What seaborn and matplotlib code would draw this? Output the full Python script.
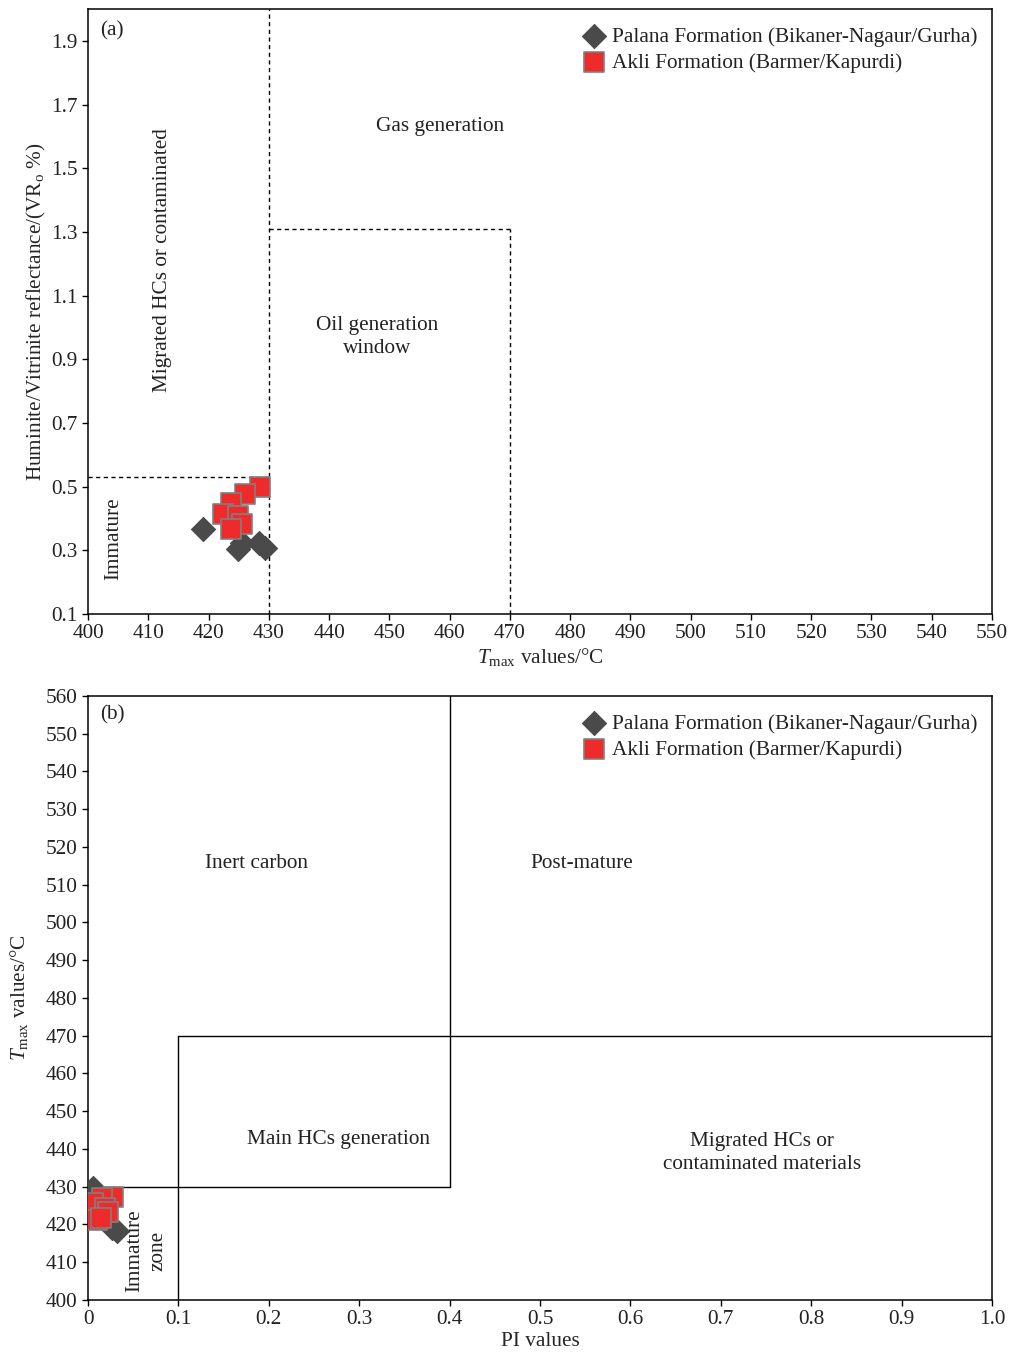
import matplotlib
matplotlib.use("Agg")
import matplotlib.pyplot as plt
import seaborn as sns
import pandas as pd
import numpy as np

# ---------------- data ----------------
# Panel (a): Tmax vs VRo
palana_a_tmax = [419.0, 425.5, 424.9, 428.3, 429.4]
palana_a_vr = [0.368, 0.324, 0.304, 0.324, 0.307]
akli_a_tmax = [428.5, 426.0, 423.8, 422.4, 424.9, 425.5, 423.8]
akli_a_vr = [0.500, 0.477, 0.450, 0.414, 0.408, 0.382, 0.366]

# Panel (b): PI vs Tmax
palana_b_pi = [0.006, 0.026, 0.032]
palana_b_tmax = [429.6, 419.2, 418.3]
akli_b_pi = [0.028, 0.015, 0.006, 0.019, 0.022, 0.010, 0.014]
akli_b_tmax = [427.3, 427.0, 425.7, 424.3, 423.2, 421.1, 421.6]

palana_label = "Palana Formation (Bikaner-Nagaur/Gurha)"
akli_label = "Akli Formation (Barmer/Kapurdi)"

a_xticks = list(range(400, 551, 10))
a_yticks = [0.1, 0.3, 0.5, 0.7, 0.9, 1.1, 1.3, 1.5, 1.7, 1.9]
b_xticks = [0, 0.1, 0.2, 0.3, 0.4, 0.5, 0.6, 0.7, 0.8, 0.9, 1.0]
b_xticklabels = ["0", "0.1", "0.2", "0.3", "0.4", "0.5", "0.6", "0.7", "0.8", "0.9", "1.0"]
b_yticks = list(range(400, 561, 10))

# ---------------- style ----------------
sns.set_style("ticks")
plt.rcParams['font.family'] = ['Liberation Serif', 'DejaVu Serif']
plt.rcParams['mathtext.fontset'] = 'custom'
plt.rcParams['mathtext.rm'] = 'Liberation Serif'
plt.rcParams['mathtext.it'] = 'Liberation Serif:italic'
plt.rcParams['text.color'] = '#222222'

FS = 15.3
gray = '#4a4a4a'
red = '#ee2a2a'
red_edge = '#808080'

fig = plt.figure(figsize=(10.09, 13.54), dpi=100)
L, W = 88 / 1009, 904 / 1009
axA = fig.add_axes([L, 1 - 614 / 1354, W, 605 / 1354])
axB = fig.add_axes([L, 1 - 1300 / 1354, W, 604 / 1354])

dfA_p = pd.DataFrame({"x": palana_a_tmax, "y": palana_a_vr})
dfA_a = pd.DataFrame({"x": akli_a_tmax, "y": akli_a_vr})
dfB_p = pd.DataFrame({"x": palana_b_pi, "y": palana_b_tmax})
dfB_a = pd.DataFrame({"x": akli_b_pi, "y": akli_b_tmax})

for ax, dp, da in [(axA, dfA_p, dfA_a), (axB, dfB_p, dfB_a)]:
    sns.scatterplot(data=dp, x="x", y="y", ax=ax, marker="D", s=150,
                    color=gray, edgecolor=gray, linewidth=0.8,
                    label=palana_label, zorder=3)
    sns.scatterplot(data=da, x="x", y="y", ax=ax, marker="s", s=220,
                    color=red, edgecolor=red_edge, linewidth=1.2,
                    label=akli_label, zorder=4)
    for sp in ax.spines.values():
        sp.set_visible(True)
        sp.set_linewidth(1.1)
        sp.set_color('black')
    ax.tick_params(axis='both', direction='out', length=4, width=1.0,
                   labelsize=FS, colors='black', labelcolor='#222222')
    leg = ax.legend(loc='upper right', frameon=False, fontsize=FS,
                    handletextpad=0.35, handlelength=1.0, borderaxespad=0.3,
                    labelspacing=0.3, bbox_to_anchor=(1.0, 0.995))

# ---------------- panel (a) ----------------
axA.set_xlim(400, 550)
axA.set_ylim(0.1, 2.0)
axA.set_xticks(a_xticks)
axA.set_yticks(a_yticks)
axA.set_yticklabels([f"{v:.1f}" for v in a_yticks])
axA.set_xlabel(r"$\mathit{T}_{\rm max}$ values/°C", fontsize=FS, labelpad=2)
axA.set_ylabel(r"Huminite/Vitrinite reflectance/(VR$_{\rm o}$ %)", fontsize=FS, labelpad=2)

dash = dict(color='black', lw=1.0, linestyle=(0, (3, 2.5)), zorder=2)
axA.plot([430, 430], [0.1, 2.0], **dash)
axA.plot([400, 430], [0.53, 0.53], **dash)
axA.plot([430, 470], [1.31, 1.31], **dash)
axA.plot([470, 470], [0.1, 1.31], **dash)

axA.text(402.0, 1.93, "(a)", fontsize=FS, ha='left', va='center')
axA.text(458.4, 1.63, "Gas generation", fontsize=FS, ha='center', va='center')
axA.text(448.0, 0.97, "Oil generation\nwindow", fontsize=FS, ha='center', va='center',
         multialignment='center', linespacing=1.3)
axA.text(412.3, 1.21, "Migrated HCs or contaminated", fontsize=FS, ha='center',
         va='center', rotation=90)
axA.text(404.2, 0.336, "Immature", fontsize=FS, ha='center', va='center', rotation=90)

# ---------------- panel (b) ----------------
axB.set_xlim(0, 1.0)
axB.set_ylim(400, 560)
axB.set_xticks(b_xticks)
axB.set_xticklabels(b_xticklabels)
axB.set_yticks(b_yticks)
axB.set_xlabel("PI values", fontsize=FS, labelpad=2)
axB.set_ylabel(r"$\mathit{T}_{\rm max}$ values/°C", fontsize=FS, labelpad=11)

solid = dict(color='black', lw=1.0, zorder=2)
axB.plot([0.4, 0.4], [430, 560], **solid)
axB.plot([0.1, 1.0], [470, 470], **solid)
axB.plot([0.1, 0.1], [400, 470], **solid)
axB.plot([0.0, 0.4], [430, 430], **solid)

axB.text(0.013, 555.0, "(b)", fontsize=FS, ha='left', va='center')
axB.text(0.186, 515.5, "Inert carbon", fontsize=FS, ha='center', va='center')
axB.text(0.546, 515.5, "Post-mature", fontsize=FS, ha='center', va='center')
axB.text(0.277, 442.6, "Main HCs generation", fontsize=FS, ha='center', va='center')
axB.text(0.746, 439.0, "Migrated HCs or\ncontaminated materials", fontsize=FS,
         ha='center', va='center', multialignment='center', linespacing=1.3)
axB.text(0.065, 413.0, "Immature\nzone", fontsize=FS, ha='center', va='center',
         rotation=90, multialignment='center', linespacing=1.3)

fig.savefig("out.png", dpi=100)
